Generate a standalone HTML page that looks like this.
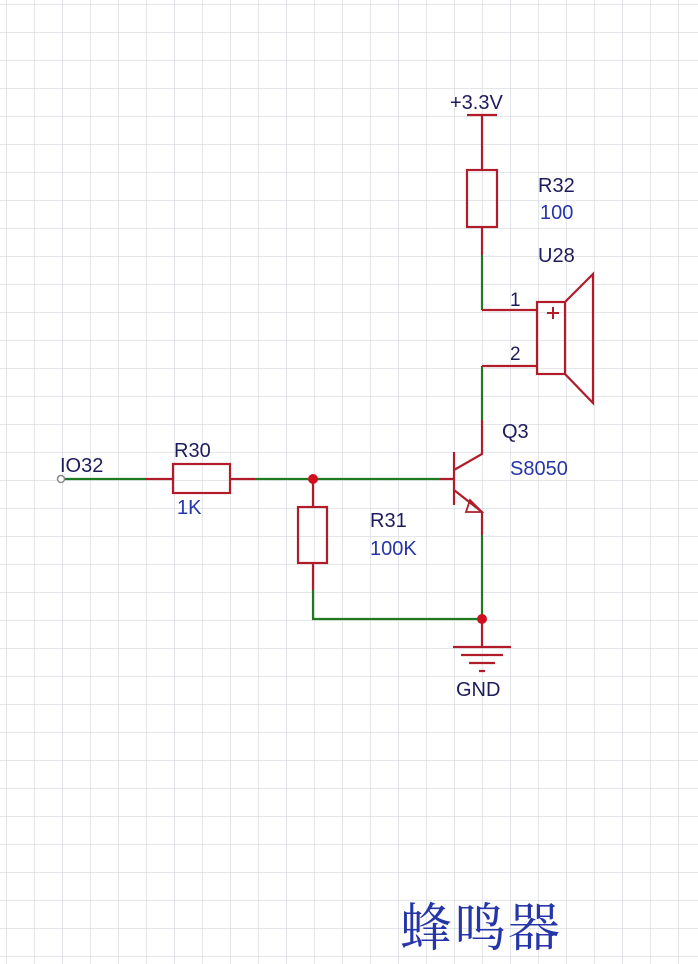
<!DOCTYPE html>
<html><head><meta charset="utf-8"><style>
body{margin:0;background:#fff}
svg{display:block}
text{font-family:"Liberation Sans",sans-serif}
</style></head><body>
<svg width="698" height="964" viewBox="0 0 698 964" xmlns="http://www.w3.org/2000/svg">
<defs><pattern id="g" x="6" y="4" width="28" height="28" patternUnits="userSpaceOnUse">
<path d="M0 0V28M0 0H28" stroke="#d4d8e0" stroke-width="1.3" fill="none"/></pattern></defs>
<rect width="698" height="964" fill="url(#g)"/>
<g fill="none" stroke-width="2.2">
<g stroke="#1f7a1f">
<path d="M61 479H145M255 479H440M482 255V310M482 366V420M482 535V619H313V590"/>
</g>
<g stroke="#b01c2a">
<path d="M467 115H497M482 115V170M482 227V255M482 310H537M482 366H537"/>
<rect x="467" y="170" width="30" height="57"/>
<rect x="537" y="302" width="28" height="72"/>
<path d="M565 302L593 274V403L565 374"/>
<path d="M547 313H559M553 307V319" stroke-width="2"/>
<path d="M145 479H173M230 479H255"/>
<rect x="173" y="464" width="57" height="29"/>
<rect x="298" y="507" width="29" height="56"/>
<path d="M313 479V507M313 563V590"/>
<path d="M440 479H454M454 452V505M454 470L482 454V420M454 490L482 512V535"/>
<path d="M470 500L482 512L466 512Z" stroke-width="1.8"/>
<path d="M482 619V647M453 647H511M461 655H503M469 663H495M479 671H485"/>
</g>
</g>
<circle cx="313" cy="479" r="5" fill="#d01020"/>
<circle cx="482" cy="619" r="5" fill="#d01020"/>
<circle cx="61" cy="479" r="3.5" fill="#fff" stroke="#888" stroke-width="1.5"/>
<g font-size="20" fill="#1c1c5c">
<text x="450" y="109">+3.3V</text>
<text x="538" y="192">R32</text>
<text x="538" y="262">U28</text>
<text x="510" y="306" font-size="19">1</text>
<text x="510" y="360" font-size="19">2</text>
<text x="502" y="438">Q3</text>
<text x="60" y="472">IO32</text>
<text x="174" y="457">R30</text>
<text x="370" y="527">R31</text>
<text x="456" y="696">GND</text>
</g>
<g font-size="20" fill="#2636a8">
<text x="540" y="219">100</text>
<text x="510" y="475">S8050</text>
<text x="177" y="514">1K</text>
<text x="370" y="555">100K</text>
</g>
<text x="400" y="946" font-size="52" fill="#2636a8" letter-spacing="2" style="font-family:'Noto Serif CJK SC','Noto Sans CJK SC',serif">蜂鸣器</text>
</svg>
</body></html>
